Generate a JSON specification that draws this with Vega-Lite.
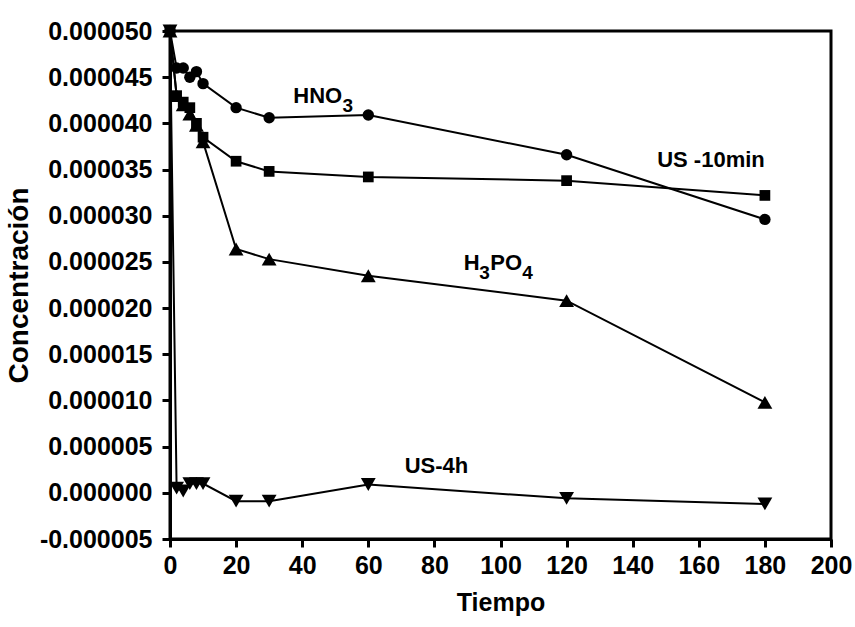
{
  "$schema": "https://vega.github.io/schema/vega-lite/v6.json",
  "width": 661,
  "height": 508,
  "autosize": {"type": "none"},
  "padding": {"left": 170, "top": 31, "right": 24, "bottom": 88},
  "background": "white",
  "config": {
    "view": {"stroke": "black", "strokeWidth": 3},
    "font": "Liberation Sans",
    "axis": {"grid": false, "domainColor": "black", "domainWidth": 3, "tickColor": "black", "tickWidth": 3,
      "labelFlush": false, "labelOverlap": false,
      "labelFont": "Liberation Sans", "labelFontWeight": "bold", "labelFontSize": 25, "labelColor": "black",
      "titleFont": "Liberation Sans", "titleFontWeight": "bold", "titleFontSize": 25, "titleColor": "black"}
  },
  "datasets": {
    "series": [
      {"s": "HNO3", "t": 0, "c": 0.00005}, {"s": "HNO3", "t": 2, "c": 0.000046}, {"s": "HNO3", "t": 4, "c": 0.000046},
      {"s": "HNO3", "t": 6, "c": 0.000045}, {"s": "HNO3", "t": 8, "c": 0.0000456}, {"s": "HNO3", "t": 10, "c": 0.0000443},
      {"s": "HNO3", "t": 20, "c": 0.0000417}, {"s": "HNO3", "t": 30, "c": 0.0000406}, {"s": "HNO3", "t": 60, "c": 0.0000409},
      {"s": "HNO3", "t": 120, "c": 0.0000366}, {"s": "HNO3", "t": 180, "c": 0.0000296},
      {"s": "US10", "t": 0, "c": 0.00005}, {"s": "US10", "t": 2, "c": 0.000043}, {"s": "US10", "t": 4, "c": 0.0000423},
      {"s": "US10", "t": 6, "c": 0.0000417}, {"s": "US10", "t": 8, "c": 0.00004}, {"s": "US10", "t": 10, "c": 0.0000385},
      {"s": "US10", "t": 20, "c": 0.0000359}, {"s": "US10", "t": 30, "c": 0.0000348}, {"s": "US10", "t": 60, "c": 0.0000342},
      {"s": "US10", "t": 120, "c": 0.0000338}, {"s": "US10", "t": 180, "c": 0.0000322},
      {"s": "H3PO4", "t": 0, "c": 0.00005}, {"s": "H3PO4", "t": 2, "c": 0.000043}, {"s": "H3PO4", "t": 4, "c": 0.000042},
      {"s": "H3PO4", "t": 6, "c": 0.000041}, {"s": "H3PO4", "t": 8, "c": 0.0000398}, {"s": "H3PO4", "t": 10, "c": 0.000038},
      {"s": "H3PO4", "t": 20, "c": 0.0000264}, {"s": "H3PO4", "t": 30, "c": 0.0000253}, {"s": "H3PO4", "t": 60, "c": 0.0000235},
      {"s": "H3PO4", "t": 120, "c": 0.0000208}, {"s": "H3PO4", "t": 180, "c": 0.0000098},
      {"s": "US4h", "t": 0, "c": 0.00005}, {"s": "US4h", "t": 2, "c": 0.0000005}, {"s": "US4h", "t": 4, "c": 0.0000002},
      {"s": "US4h", "t": 6, "c": 0.000001}, {"s": "US4h", "t": 8, "c": 0.000001}, {"s": "US4h", "t": 10, "c": 0.000001},
      {"s": "US4h", "t": 20, "c": -0.0000009}, {"s": "US4h", "t": 30, "c": -0.0000009}, {"s": "US4h", "t": 60, "c": 0.0000009},
      {"s": "US4h", "t": 120, "c": -0.0000006}, {"s": "US4h", "t": 180, "c": -0.0000012}
    ],
    "labels": [
      {"kind": "main", "text": "HNO", "t": 37.3, "c": 0.00004218},
      {"kind": "sub", "text": "3", "t": 52.2, "c": 0.00004127},
      {"kind": "main", "text": "H", "t": 88.9, "c": 0.00002414},
      {"kind": "sub", "text": "3", "t": 93.6, "c": 0.00002315},
      {"kind": "main", "text": "PO", "t": 96.9, "c": 0.00002414},
      {"kind": "sub", "text": "4", "t": 106.6, "c": 0.00002315},
      {"kind": "main", "text": "US -10min", "t": 147.4, "c": 0.00003532},
      {"kind": "main", "text": "US-4h", "t": 71.0, "c": 0.00000214}
    ]
  },
  "layer": [
    {
      "data": {"name": "series"},
      "mark": {"type": "line", "color": "black", "strokeWidth": 2},
      "encoding": {
        "x": {"field": "t", "type": "quantitative", "scale": {"domain": [0, 200], "nice": false},
          "axis": {"title": "Tiempo", "values": [0,10,20,30,40,50,60,70,80,90,100,110,120,130,140,150,160,170,180,190,200],
            "labelExpr": "datum.value % 20 === 0 ? datum.label : ''",
            "tickSize": {"condition": {"test": "datum.value % 20 !== 0", "value": 4}, "value": 8},
            "labelPadding": 6, "titlePadding": 12}},
        "y": {"field": "c", "type": "quantitative", "scale": {"domain": [-0.000005, 0.00005], "nice": false, "zero": false},
          "axis": {"title": "Concentración", "titleFontSize": 28,
            "values": [-0.000005, -0.0000025, 0, 0.0000025, 0.000005, 0.0000075, 0.00001, 0.0000125, 0.000015, 0.0000175, 0.00002, 0.0000225, 0.000025, 0.0000275, 0.00003, 0.0000325, 0.000035, 0.0000375, 0.00004, 0.0000425, 0.000045, 0.0000475, 0.00005],
            "labelExpr": "abs(round(datum.value*400000)) % 2 === 1 ? '' : (datum.value < 0 ? '-' + format(-datum.value, '.6f') : format(datum.value, '.6f'))",
            "tickSize": {"condition": {"test": "abs(round(datum.value*400000)) % 2 === 1", "value": 4}, "value": 8},
            "labelPadding": 10, "titlePadding": 6}},
        "detail": {"field": "s", "type": "nominal"},
        "order": {"field": "t", "type": "quantitative"}
      }
    },
    {
      "data": {"name": "series"},
      "mark": {"type": "point", "filled": true, "color": "black", "opacity": 1},
      "encoding": {
        "x": {"field": "t", "type": "quantitative"},
        "y": {"field": "c", "type": "quantitative"},
        "shape": {"field": "s", "type": "nominal", "legend": null,
          "scale": {"domain": ["HNO3", "US10", "H3PO4", "US4h"], "range": ["circle", "square", "triangle-up", "triangle-down"]}},
        "size": {"field": "s", "type": "nominal", "legend": null,
          "scale": {"type": "ordinal", "domain": ["HNO3", "US10", "H3PO4", "US4h"], "range": [130, 115, 220, 220]}}
      }
    },
    {
      "data": {"name": "labels"},
      "transform": [{"filter": "datum.kind === 'main'"}],
      "mark": {"type": "text", "align": "left", "baseline": "alphabetic", "font": "Liberation Sans", "fontWeight": "bold", "fontSize": 22, "color": "black"},
      "encoding": {
        "x": {"field": "t", "type": "quantitative"},
        "y": {"field": "c", "type": "quantitative"},
        "text": {"field": "text"}
      }
    },
    {
      "data": {"name": "labels"},
      "transform": [{"filter": "datum.kind === 'sub'"}],
      "mark": {"type": "text", "align": "left", "baseline": "alphabetic", "font": "Liberation Sans", "fontWeight": "bold", "fontSize": 19, "color": "black"},
      "encoding": {
        "x": {"field": "t", "type": "quantitative"},
        "y": {"field": "c", "type": "quantitative"},
        "text": {"field": "text"}
      }
    }
  ]
}
